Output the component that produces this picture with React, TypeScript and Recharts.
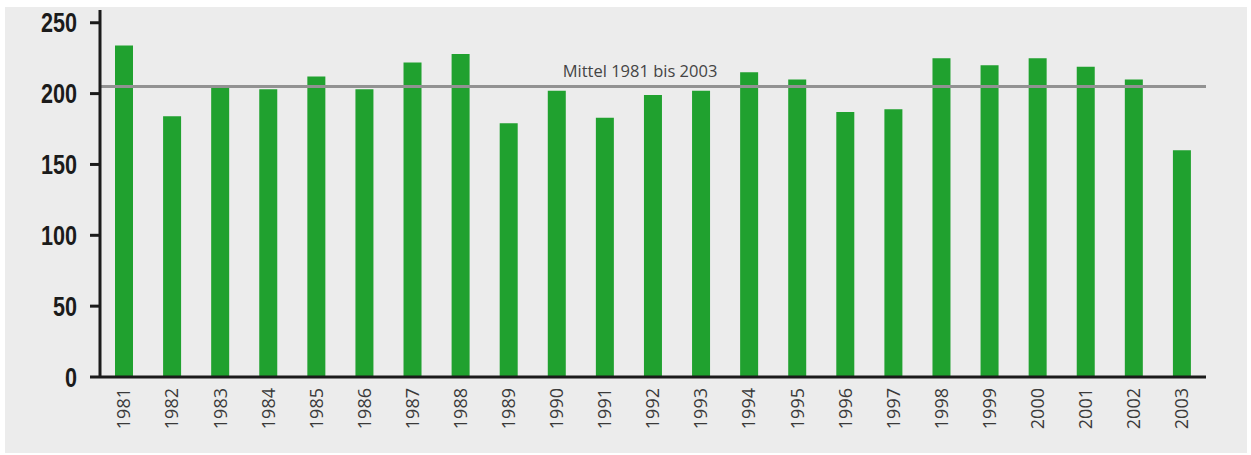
import { BarChart, Bar, XAxis, YAxis, ReferenceLine } from "recharts";

// Werte je Jahr
const years = ["1981", "1982", "1983", "1984", "1985", "1986", "1987", "1988", "1989", "1990", "1991", "1992",
  "1993", "1994", "1995", "1996", "1997", "1998", "1999", "2000", "2001", "2002", "2003"];
const values = [234, 184, 205, 203, 212, 203, 222, 228, 179, 202, 183, 199,
  202, 215, 210, 187, 189, 225, 220, 225, 219, 210, 160];
const yTicks = [0, 50, 100, 150, 200, 250];
const mean = 205;
const meanLabel = "Mittel 1981 bis 2003";

const data = years.map((year, i) => ({ year, value: values[i] }));

const GREEN = "#20a12f";
const AXIS = "#1b1b1b";

function YearTick({ x, y, payload }: any) {
  return (
    <text x={x} y={y} dy="0.35em" textAnchor="end" transform={`rotate(-90, ${x}, ${y})`}
      fontFamily="'Open Sans', sans-serif" fontSize={18} fill="#3a3a3a">
      {payload.value}
    </text>
  );
}

// schmale fette Ziffern: Liberation Sans Bold horizontal gestaucht
function ValueTick({ x, y, payload }: any) {
  return (
    <text transform={`translate(${x}, ${y}) scale(0.8, 1)`} dy="0.36em" textAnchor="end"
      fontFamily="'Liberation Sans', Arial, sans-serif" fontWeight={700} fontSize={27} fill="#1b1b1b">
      {payload.value}
    </text>
  );
}

function MeanLabel({ viewBox }: any) {
  return (
    <text x={viewBox.x + viewBox.width / 2 - 13} y={viewBox.y - 10} textAnchor="middle"
      fontFamily="'Open Sans', sans-serif" fontSize={16.5} fill="#444">
      {meanLabel}
    </text>
  );
}

export default function App() {
  return (
    <div style={{ position: "absolute", left: 0, top: 0, width: 1251, height: 455, background: "#fff" }}>
      <div style={{ position: "absolute", left: 5, top: 7, width: 1242, height: 446, background: "#ececec" }}>
        <BarChart width={1242} height={446} data={data} margin={{ top: 3, right: 41, left: 0, bottom: 6 }} barCategoryGap={0}>
          <XAxis dataKey="year" height={70} tickSize={0} tickMargin={11} interval={0}
            axisLine={{ stroke: AXIS, strokeWidth: 3 }} tickLine={false} tick={<YearTick />} />
          <YAxis domain={[0, 259]} ticks={yTicks} width={95} tickSize={10} tickMargin={13} interval={0}
            axisLine={{ stroke: AXIS, strokeWidth: 3 }} tickLine={{ stroke: AXIS, strokeWidth: 3 }}
            tick={<ValueTick />} />
          <Bar dataKey="value" fill={GREEN} barSize={18} isAnimationActive={false} />
          <ReferenceLine y={mean} stroke="#929292" strokeWidth={3} label={<MeanLabel />} />
        </BarChart>
      </div>
    </div>
  );
}
